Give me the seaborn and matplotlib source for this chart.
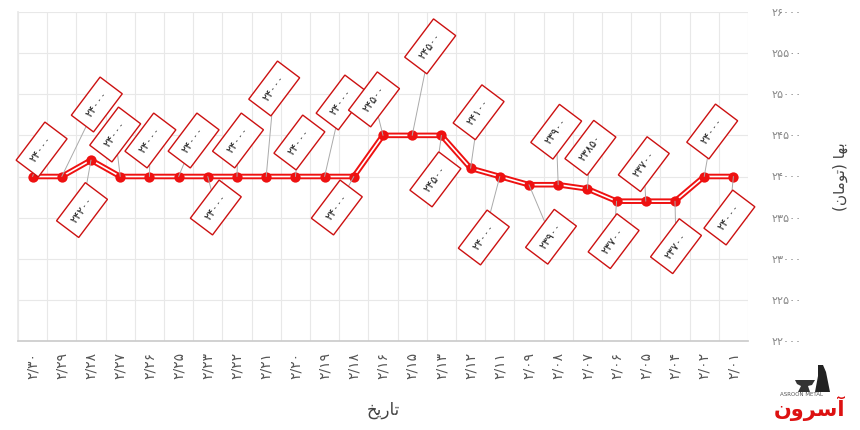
import matplotlib
matplotlib.use("Agg")
import matplotlib.pyplot as plt
from matplotlib.patches import Polygon
import seaborn as sns
import pandas as pd

dates = ["2/30", "2/29", "2/28", "2/27", "2/26", "2/25", "2/23", "2/22", "2/21",
         "2/20", "2/19", "2/18", "2/16", "2/15", "2/13", "2/12", "2/11", "2/09",
         "2/08", "2/07", "2/06", "2/05", "2/04", "2/02", "2/01"]
prices = [24000, 24000, 24200, 24000, 24000, 24000, 24000, 24000, 24000,
          24000, 24000, 24000, 24500, 24500, 24500, 24100, 24000, 23900,
          23900, 23850, 23700, 23700, 23700, 24000, 24000]
y_ticks = [22000, 22500, 23000, 23500, 24000, 24500, 25000, 25500, 26000]

# label offsets in pixels (dx, dy with y downward)
label_offsets = [(9, -27), (35, -72), (-9, 50), (-5, -42), (1, -36), (15, -36),
                 (8, 31), (1, -36), (8, -88), (4, -34), (17, -74), (-17, 31),
                 (-9, -36), (18, -89), (-6, 44), (8, -56), (-16, 61), (22, 52),
                 (-2, -53), (3, -41), (-3, 40), (-2, -37), (1, 45), (8, -45), (-4, 41)]

FA = str.maketrans("0123456789", "۰۱۲۳۴۵۶۷۸۹")
def fa(s):
    return str(s).translate(FA)

df = pd.DataFrame({"date": dates, "price": prices})

sns.set_theme(style="white")
plt.rcParams["font.family"] = ["DejaVu Sans"]

fig = plt.figure(figsize=(8.6, 4.3), dpi=100)
ax = fig.add_axes([18 / 860, (430 - 341) / 430, (748 - 18) / 860, (341 - 12) / 430])

RED = "#ee1111"
sns.pointplot(data=df, x="date", y="price", order=dates, color=RED,
              markers="", linewidth=4.0, ax=ax, zorder=3)
sns.pointplot(data=df, x="date", y="price", order=dates, color="white",
              markers="", linewidth=1.2, ax=ax, zorder=4)
sns.scatterplot(data=df, x="date", y="price", color=RED, s=55,
                edgecolor=RED, linewidth=0, ax=ax, zorder=5)

ax.set_xlim(-0.5, len(dates) - 0.5)
ax.set_ylim(22000, 26000)
ax.set_yticks(y_ticks)
ax.yaxis.tick_right()
ax.set_yticklabels([fa(v) for v in y_ticks], fontsize=8, color="#888888")
ax.tick_params(axis="y", length=0, pad=17)
ax.set_xticks(range(len(dates)))
ax.set_xticklabels([fa(d) for d in dates], rotation=90, fontsize=10, color="#555555")
ax.tick_params(axis="x", length=0, pad=8)

# gridlines at category boundaries and each y tick
ax.set_xticks([i - 0.5 for i in range(len(dates) + 1)], minor=True)
ax.grid(False)
ax.grid(which="minor", axis="x", color="#e8e8e8", lw=0.8)
ax.grid(which="major", axis="y", color="#e8e8e8", lw=0.8)
for s in ["top", "right"]:
    ax.spines[s].set_visible(False)
ax.spines["left"].set_color("#e8e8e8")
ax.spines["bottom"].set_color("#cccccc")
ax.set_axisbelow(True)

ax.set_xlabel("\uFEA6\uFBFE\uFEAD\uFE8E\uFE97", fontsize=12, color="#444444", labelpad=16)
ax.yaxis.set_label_position("right")
ax.set_ylabel("(\uFEE5\uFE8E\uFEE3\uFEEE\uFE97) \uFE8E\uFEEC\uFE91", fontsize=11,
              color="#444444", labelpad=22, rotation=90)

for i, (d, p) in enumerate(zip(dates, prices)):
    dx, dy = label_offsets[i]
    ax.annotate(fa(p), xy=(i, p), xytext=(dx, -dy),
                textcoords="offset pixels", rotation=53, rotation_mode="anchor",
                ha="center", va="center", fontsize=8, color="#222222", zorder=6,
                bbox=dict(boxstyle="square,pad=0.8", fc="white", ec="#cc1111", lw=1.0),
                arrowprops=dict(arrowstyle="-", color="#aaaaaa", lw=0.7,
                                shrinkA=0, shrinkB=0))

# logo
def px(x, y):
    return (x / 860, 1 - y / 430)

anvil = Polygon([px(795, 380), px(815, 380), px(812, 385), px(808, 386),
                 px(810, 392), px(798, 392), px(801, 386), px(797, 384)],
                closed=True, transform=fig.transFigure, fc="#333333", ec="none")
fig.patches.append(anvil)
figure_shape = Polygon([px(818, 365), px(823, 365), px(826, 372), px(830, 392),
                        px(815, 392), px(818, 376)],
                       closed=True, transform=fig.transFigure, fc="#222222", ec="none")
fig.patches.append(figure_shape)
fig.text(*px(802, 395), "ASROON METAL", fontsize=4, color="#555555",
         ha="center", va="center")
fig.text(*px(810, 409), "\uFEE5\uFEED\uFEAE\uFEB3\uFE81", fontsize=15,
         fontweight="bold", color="#dd1111", ha="center", va="center")

fig.savefig("out.png", dpi=100)
